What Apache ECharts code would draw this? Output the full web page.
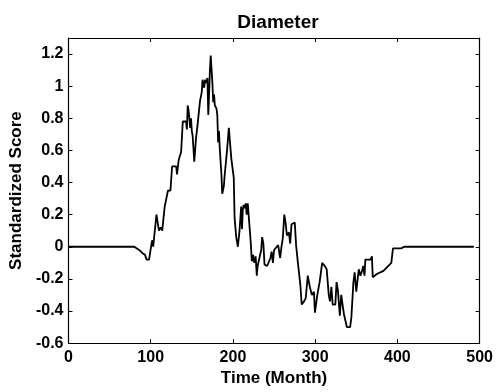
<!DOCTYPE html>
<html>
<head>
<meta charset="utf-8">
<script src="https://cdn.jsdelivr.net/npm/echarts@6/dist/echarts.min.js"></script>
<style>
html,body{margin:0;padding:0;background:#fff;}
#chart{width:496px;height:392px;}
</style>
</head>
<body>
<div id="chart"></div>
<script>
var titleText = 'Diameter';
var xName = 'Time (Month)';
var yName = 'Standardized Score';
var xTicks = [0, 100, 200, 300, 400, 500];
var yTicks = [-0.6, -0.4, -0.2, 0, 0.2, 0.4, 0.6, 0.8, 1, 1.2];

var months = [0, 80, 86, 90, 93, 95, 98, 101, 102, 103, 105, 107, 108, 110, 112, 114, 116, 117, 119, 121, 124, 126, 131, 132, 134, 137, 138, 139, 143, 144, 145, 146, 147, 148, 149, 150, 151, 153, 155, 157, 160, 162, 163, 164, 165, 166, 167, 169, 170, 171, 172, 173, 175, 176, 177, 178, 180, 181, 182, 183, 184, 186, 187, 189, 190, 192, 193, 195, 197, 198, 200, 201, 202, 204, 206, 208, 210, 211, 212, 213, 214.5, 215.5, 216.7, 218, 220, 221.6, 223, 224.6, 226, 227.6, 229, 230, 232, 234.4, 235.5, 237, 238.4, 241.6, 244, 245.6, 247, 248.6, 250, 252, 255, 257.4, 259, 260.6, 262.4, 264, 265.6, 268, 269.6, 271.2, 275.2, 276.8, 279, 280.5, 282, 283.6, 286.5, 288.5, 291, 293.5, 296, 298.5, 299.7, 302.6, 305.4, 308.5, 311.7, 314, 316.5, 318, 319.7, 321.3, 324.5, 326, 327.6, 330, 331.7, 333.3, 335, 336.5, 338.5, 342.5, 344, 346.5, 348, 350, 353, 355, 357, 358.4, 360, 361, 364.6, 367.4, 369, 370, 375, 383, 392.6, 394.6, 405, 408, 493];
var values = [0, 0, -0.02, -0.04, -0.05, -0.08, -0.08, 0.02, 0.04, 0.0, 0.0, 0.2, 0.2, 0.1, 0.12, 0.1, 0.09, 0.25, 0.3, 0.35, 0.35, 0.5, 0.5, 0.45, 0.54, 0.59, 0.59, 0.78, 0.78, 0.73, 0.88, 0.85, 0.8, 0.74, 0.8, 0.72, 0.69, 0.53, 0.67, 0.76, 0.91, 0.96, 1.04, 1.05, 0.99, 1.04, 1.02, 1.05, 0.82, 0.95, 1.1, 1.19, 1.02, 0.9, 0.95, 0.88, 0.86, 0.82, 0.65, 0.72, 0.61, 0.45, 0.33, 0.38, 0.45, 0.44, 0.61, 0.74, 0.74, 0.55, 0.47, 0.43, 0.18, 0.06, 0.0, 0.1, 0.25, 0.11, 0.23, 0.26, 0.24, 0.27, 0.2, 0.27, 0.28, 0.03, -0.09, -0.05, -0.1, -0.06, -0.18, -0.12, -0.12, -0.02, 0.06, 0.02, -0.11, -0.12, -0.11, -0.07, -0.03, -0.1, -0.02, -0.01, 0.01, -0.07, 0.0, 0.05, 0.2, 0.15, 0.07, 0.09, 0.02, 0.14, 0.15, 0.01, -0.1, -0.09, -0.24, -0.36, -0.34, -0.32, -0.18, -0.25, -0.3, -0.28, -0.41, -0.3, -0.22, -0.1, -0.12, -0.14, -0.3, -0.34, -0.25, -0.36, -0.36, -0.22, -0.27, -0.43, -0.3, -0.36, -0.42, -0.42, -0.5, -0.5, -0.44, -0.22, -0.16, -0.28, -0.14, -0.18, -0.15, -0.12, -0.18, -0.08, -0.08, -0.08, -0.06, -0.19, -0.17, -0.15, -0.1, -0.01, -0.01, 0.0, 0.0];

var seriesData = months.map(function (m, i) { return [m, values[i]]; });

var font = '"Liberation Sans", Arial, sans-serif';
var tickStyle = { show: true, inside: true, length: 4, lineStyle: { color: '#000', width: 1 } };
var lineStyle = { color: '#000', width: 1.2 };

var chart = echarts.init(document.getElementById('chart'), null, { renderer: 'canvas' });
chart.setOption({
  animation: false,
  backgroundColor: '#fff',
  title: {
    text: titleText,
    left: 273,
    textAlign: 'center',
    top: 8,
    textStyle: { fontFamily: font, fontWeight: 'bold', fontSize: 19, color: '#000' }
  },
  grid: { left: 65, right: 15, top: 38, bottom: 44, containLabel: false },
  xAxis: [{
    type: 'value',
    min: xTicks[0],
    max: xTicks[xTicks.length - 1],
    interval: 100,
    name: xName,
    nameLocation: 'middle',
    nameGap: 24,
    nameTextStyle: { fontFamily: font, fontWeight: 'bold', fontSize: 17, color: '#000' },
    axisLine: { show: true, onZero: false, lineStyle: lineStyle },
    axisTick: tickStyle,
    axisLabel: { fontFamily: font, fontWeight: 'bold', fontSize: 16, color: '#000', margin: 6 },
    splitLine: { show: false }
  }, {
    type: 'value', position: 'top',
    min: xTicks[0], max: xTicks[xTicks.length - 1], interval: 100,
    axisLine: { show: true, onZero: false, lineStyle: lineStyle },
    axisTick: tickStyle,
    axisLabel: { show: false },
    splitLine: { show: false }
  }],
  yAxis: [{
    type: 'value',
    min: yTicks[0],
    max: 1.3,
    interval: 0.2,
    name: yName,
    nameLocation: 'middle',
    nameGap: 39,
    nameTextStyle: { fontFamily: font, fontWeight: 'bold', fontSize: 17, color: '#000' },
    axisLine: { show: true, onZero: false, lineStyle: lineStyle },
    axisTick: tickStyle,
    axisLabel: {
      fontFamily: font, fontWeight: 'bold', fontSize: 16, color: '#000', margin: 5,
      formatter: function (v) { return v > 1.25 ? '' : String(Math.round(v * 10) / 10); }
    },
    splitLine: { show: false }
  }, {
    type: 'value', position: 'right',
    min: yTicks[0], max: 1.3, interval: 0.2,
    axisLine: { show: true, onZero: false, lineStyle: lineStyle },
    axisTick: tickStyle,
    axisLabel: { show: false },
    splitLine: { show: false }
  }],
  series: [{
    type: 'line',
    data: seriesData,
    showSymbol: false,
    symbol: 'none',
    lineStyle: { color: '#000', width: 1.8 },
    xAxisIndex: 0,
    yAxisIndex: 0
  }]
});
</script>
</body>
</html>
